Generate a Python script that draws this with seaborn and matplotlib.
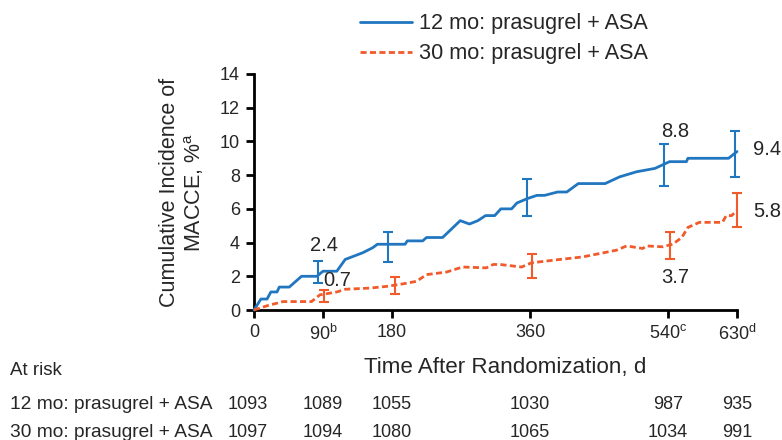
import matplotlib
matplotlib.use("Agg")
import matplotlib.pyplot as plt
import seaborn as sns
import pandas as pd
from matplotlib.lines import Line2D

# ---- data ----
blue_days = [0, 9, 17, 22, 30, 33, 46, 62, 82, 90, 108, 119, 142, 155, 161, 197, 200, 220, 225, 246,
             269, 281, 292, 302, 314, 322, 336, 343, 356, 369, 379, 396, 408, 423, 458, 477, 499,
             523, 542, 564, 566, 619, 630]
blue_vals = [0, 0.65, 0.65, 1.07, 1.07, 1.36, 1.36, 2.0, 2.0, 2.3, 2.3, 3.0, 3.4, 3.7, 3.9, 3.9, 4.1, 4.1,
             4.3, 4.3, 5.3, 5.1, 5.3, 5.6, 5.6, 6.0, 6.0, 6.35, 6.6, 6.8, 6.8, 7.0, 7.0, 7.5, 7.5, 7.9,
             8.2, 8.4, 8.8, 8.8, 9.0, 9.0, 9.4]
orange_days = [0, 17, 38, 60, 75, 86, 108, 119, 151, 173, 194, 212, 225, 251, 272, 303, 312, 321, 349,
               362, 399, 429, 451, 473, 486, 507, 512, 533, 546, 558, 566, 581, 611, 616, 623, 630]
orange_vals = [0, 0.25, 0.5, 0.5, 0.5, 0.9, 1.07, 1.23, 1.3, 1.4, 1.55, 1.7, 2.1, 2.25, 2.55, 2.5, 2.7,
               2.7, 2.55, 2.8, 3.0, 3.15, 3.35, 3.55, 3.8, 3.65, 3.8, 3.75, 3.9, 4.3, 4.9, 5.2, 5.2,
               5.6, 5.6, 5.9]

blue_err_days = [84, 175, 356, 535, 628]
blue_err_lo = [1.6, 2.85, 5.6, 7.35, 7.9]
blue_err_hi = [2.9, 4.6, 7.8, 9.85, 10.6]
orange_err_days = [91, 184, 363, 543, 630]
orange_err_lo = [0.45, 0.95, 1.9, 3.0, 4.9]
orange_err_hi = [1.2, 1.95, 3.3, 4.6, 6.95]

series_names = ["12 mo: prasugrel + ASA", "30 mo: prasugrel + ASA"]
xtick_vals = [0, 90, 180, 360, 540, 630]
xtick_labels = ["0", "90$^{\\mathrm{b}}$", "180", "360", "540$^{\\mathrm{c}}$", "630$^{\\mathrm{d}}$"]
ytick_vals = [0, 2, 4, 6, 8, 10, 12, 14]

ann_text = ["2.4", "0.7", "8.8", "3.7", "9.4", "5.8"]
ann_x = [91, 109, 549, 549, 669, 669]
ann_y = [3.8, 1.75, 10.6, 1.95, 9.55, 5.87]

risk_days = [0, 90, 180, 360, 540, 630]
risk_12 = [1093, 1089, 1055, 1030, 987, 935]
risk_30 = [1097, 1094, 1080, 1065, 1034, 991]

BLUE = "#2176C0"
ORANGE = "#F15A2B"
DASH = (0, (2.2, 1.2))

sns.set_style("white")
plt.rcParams["font.family"] = ["Liberation Sans", "DejaVu Sans"]
plt.rcParams["mathtext.fontset"] = "custom"
plt.rcParams["mathtext.rm"] = "Liberation Sans"

fig = plt.figure(figsize=(7.82, 4.4), dpi=100)
ax = fig.add_axes([254 / 782, 1 - 310 / 440, (737 - 254) / 782, (310 - 74) / 440])

df_b = pd.DataFrame({"day": blue_days, "val": blue_vals})
df_o = pd.DataFrame({"day": orange_days, "val": orange_vals})
sns.lineplot(data=df_b, x="day", y="val", ax=ax, color=BLUE, lw=2.0, estimator=None, sort=False,
             clip_on=False, zorder=3)
sns.lineplot(data=df_o, x="day", y="val", ax=ax, color=ORANGE, lw=2.0, estimator=None, sort=False,
             clip_on=False, zorder=3, dashes=False, linestyle=DASH)

for xs, lo, hi, c in [(blue_err_days, blue_err_lo, blue_err_hi, BLUE),
                      (orange_err_days, orange_err_lo, orange_err_hi, ORANGE)]:
    mid = [(a + b) / 2 for a, b in zip(lo, hi)]
    err = [[m - a for m, a in zip(mid, lo)], [b - m for m, b in zip(mid, hi)]]
    ax.errorbar(xs, mid, yerr=err, fmt="none", ecolor=c, elinewidth=1.5, capsize=3.5,
                capthick=1.5, clip_on=False, zorder=4)

ax.set_xlim(0, 630)
ax.set_ylim(0, 14)
ax.set_xticks(xtick_vals)
ax.set_xticklabels(xtick_labels)
ax.set_yticks(ytick_vals)
sns.despine(ax=ax)
for s in ["left", "bottom"]:
    ax.spines[s].set_linewidth(2.0)
    ax.spines[s].set_color("black")
ax.tick_params(axis="both", direction="out", length=6, width=2.0, color="black",
               labelsize=13, pad=4, bottom=True, left=True)
ax.set_xlabel("")
ax.set_ylabel("Cumulative Incidence of\nMACCE, %$^{\\mathrm{a}}$", fontsize=15.5,
              linespacing=1.1)
ax.yaxis.set_label_coords((206 - 254) / 483, 0.5)

for t, x, y in zip(ann_text, ann_x, ann_y):
    ax.text(x, y, t, fontsize=14.5, ha="center", va="center", clip_on=False)

fig.text(505 / 782, 1 - 368 / 440, "Time After Randomization, d", fontsize=16.1, ha="center", va="center")

handles = [Line2D([0], [0], color=BLUE, lw=2.0),
           Line2D([0], [0], color=ORANGE, lw=2.0, linestyle=DASH)]
fig.legend(handles, series_names, loc="upper left", bbox_to_anchor=(349 / 782, 1 - 2.5 / 440),
           frameon=False, fontsize=15.6, handlelength=2.4, handletextpad=0.35, labelspacing=0.42,
           borderpad=0)

fig.text(10 / 782, 1 - 370 / 440, "At risk", fontsize=13.5, ha="left", va="center")
rows_y = [404, 432]
for name, vals, yy in zip(series_names, [risk_12, risk_30], rows_y):
    fig.text(10 / 782, 1 - yy / 440, name, fontsize=13.8, ha="left", va="center")
    for d, v in zip(risk_days, vals):
        px = 254 + d * (737 - 254) / 630
        if d == 0:
            px -= 6
        fig.text(px / 782, 1 - yy / 440, str(v), fontsize=13, ha="center", va="center")

fig.savefig("out.png", dpi=100)
